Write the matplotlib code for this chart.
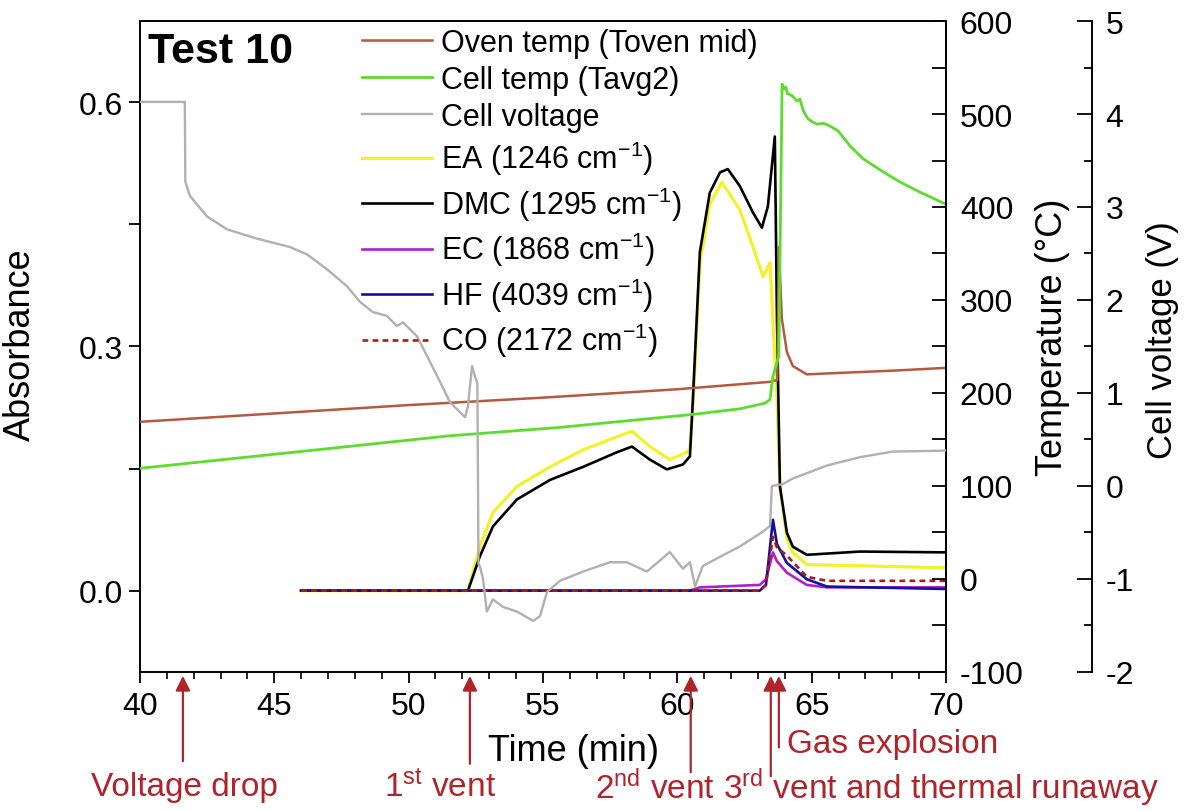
import matplotlib
matplotlib.use('Agg')
import matplotlib.pyplot as plt
from matplotlib.ticker import MultipleLocator, FuncFormatter

plt.rcParams['font.family'] = ['Liberation Sans', 'DejaVu Sans']
plt.rcParams['mathtext.fontset'] = 'custom'
plt.rcParams['mathtext.rm'] = 'Liberation Sans'
plt.rcParams['mathtext.it'] = 'Liberation Sans:italic'
plt.rcParams['mathtext.bf'] = 'Liberation Sans:bold'
plt.rcParams['axes.unicode_minus'] = False

# ---------------- data ----------------
oven_t = [40, 45, 50, 55, 60, 63.45, 63.72, 63.78, 63.89, 64.08, 64.30, 64.82, 65.57, 68.0, 70.0]
oven_T = [169, 178, 187, 195, 204, 212, 214, 357, 280, 244, 229, 220, 221, 224, 227]

cell_t = [40, 45.95, 51.54, 55.63, 60.58, 62.33, 63.26, 63.45, 63.56, 63.78, 63.9, 63.97, 64.04,
          64.1, 64.19, 64.3, 64.45, 64.56, 64.7, 64.86, 65.0, 65.2, 65.45, 65.68, 65.98, 66.42,
          66.91, 67.65, 68.28, 69.03, 70.0]
cell_T = [119, 137, 154, 163, 177, 183, 189, 193, 218, 240, 532, 527, 529, 522, 521, 519, 514,
          516, 503, 495, 492, 489, 490, 487, 482, 466, 452, 438, 427, 416, 403]

volt_t = [40, 41.67, 41.69, 41.86, 42.49, 43.24, 44.35, 45.58, 46.22, 46.96, 47.70, 48.19, 48.67,
          49.19, 49.56, 49.79, 50.31, 50.68, 51.17, 51.54, 52.10, 52.21, 52.36, 52.47, 52.56, 52.60,
          52.65, 52.77, 52.91, 53.14, 53.51, 54.03, 54.63, 54.89, 55.15, 55.63, 56.49, 57.49, 58.12,
          58.87, 59.72, 60.21, 60.47, 60.66, 60.95, 61.47, 62.33, 63.19, 63.45, 63.52, 63.93, 64.30,
          65.57, 66.80, 68.02, 69.96]
volt_V = [4.13, 4.13, 3.27, 3.12, 2.90, 2.76, 2.66, 2.57, 2.49, 2.33, 2.15, 1.98, 1.87,
          1.83, 1.72, 1.76, 1.61, 1.40, 1.12, 0.90, 0.74, 0.86, 1.29, 1.18, 1.10, -0.84,
          -0.86, -1.00, -1.35, -1.22, -1.30, -1.35, -1.45, -1.40, -1.14, -1.02, -0.92, -0.82, -0.82,
          -0.92, -0.71, -0.89, -0.82, -1.08, -0.86, -0.78, -0.65, -0.49, -0.43, 0.00, 0.02, 0.08,
          0.22, 0.31, 0.37, 0.38]

ea_t = [46, 52.21, 52.65, 53.14, 54.03, 55.26, 56.49, 57.75, 58.31, 58.98, 59.72, 60.36, 60.47,
        60.58, 60.84, 61.21, 61.66, 62.33, 62.81, 63.19, 63.45, 63.71, 63.82, 64.08, 64.30, 64.82, 70.0]
ea_A = [0, 0, 0.054, 0.096, 0.128, 0.152, 0.173, 0.189, 0.196, 0.177, 0.161, 0.170, 0.176,
        0.223, 0.401, 0.475, 0.502, 0.468, 0.423, 0.386, 0.403, 0.235, 0.128, 0.063, 0.047, 0.032, 0.028]

dmc_t = [46, 52.21, 52.65, 53.14, 54.03, 55.26, 56.49, 57.75, 58.31, 58.98, 59.61, 60.21, 60.47,
         60.58, 60.84, 61.21, 61.59, 61.88, 62.33, 62.81, 63.15, 63.37, 63.63, 63.71, 63.82, 64.08,
         64.30, 64.82, 66.80, 70.0]
dmc_A = [0, 0, 0.042, 0.079, 0.112, 0.136, 0.152, 0.170, 0.177, 0.161, 0.149, 0.155, 0.165,
         0.235, 0.416, 0.489, 0.514, 0.518, 0.497, 0.465, 0.446, 0.472, 0.558, 0.333, 0.128, 0.071,
         0.054, 0.044, 0.048, 0.047]

ec_t = [46, 60.47, 60.84, 63.07, 63.30, 63.56, 63.71, 64.08, 64.82, 65.57, 70.0]
ec_A = [0, 0, 0.004, 0.007, 0.014, 0.047, 0.036, 0.022, 0.007, 0.004, 0.004]

hf_t = [46, 63.07, 63.30, 63.56, 63.71, 64.08, 64.82, 65.57, 70.0]
hf_A = [0, 0, 0.007, 0.087, 0.057, 0.034, 0.014, 0.005, 0.002]

co_t = [46, 63.07, 63.30, 63.56, 63.71, 64.08, 64.82, 65.57, 70.0]
co_A = [0, 0, 0.007, 0.066, 0.053, 0.043, 0.017, 0.012, 0.012]

labels = ['Oven temp (Toven mid)', 'Cell temp (Tavg2)', 'Cell voltage',
          'EA (1246 cm$^{\\mathregular{-1}}$)', 'DMC (1295 cm$^{\\mathregular{-1}}$)',
          'EC (1868 cm$^{\\mathregular{-1}}$)', 'HF (4039 cm$^{\\mathregular{-1}}$)',
          'CO (2172 cm$^{\\mathregular{-1}}$)']

events_x = [41.6, 52.28, 60.5, 63.48, 63.78]

RED = '#B0232B'

# ---------------- figure ----------------
fig = plt.figure(figsize=(11.92, 8.12), dpi=100)
ax = fig.add_axes([0.1174, 0.1712, 0.6762, 0.8017])
ax2 = ax.twinx()
ax3 = ax.twinx()

lw = 1.9
h_ea, = ax.plot(ea_t, ea_A, color='#F2F22A', lw=lw + 0.4, label=labels[3])
h_dmc, = ax.plot(dmc_t, dmc_A, color='black', lw=lw, label=labels[4])
h_ec, = ax.plot(ec_t, ec_A, color='#B01ED0', lw=lw, label=labels[5])
h_hf, = ax.plot(hf_t, hf_A, color='#1010A0', lw=lw, label=labels[6])
h_co, = ax.plot(co_t, co_A, color='#B01818', lw=lw, ls=(0, (2.2, 1.6)), label=labels[7])

h_oven, = ax2.plot(oven_t, oven_T, color='#B4583F', lw=1.8, label=labels[0])
h_cell, = ax2.plot(cell_t, cell_T, color='#5CDC2C', lw=2.0, label=labels[1])

h_volt, = ax3.plot(volt_t, volt_V, color='#B0B0B0', lw=1.7, label=labels[2])

# axes limits & ticks
ax.set_xlim(40, 70)
ax.set_ylim(-0.1, 0.7)
ax2.set_ylim(-100, 600)
ax3.set_ylim(-2, 5)

TS = 23
LS = 26
ax.xaxis.set_major_locator(MultipleLocator(5))
ax.xaxis.set_minor_locator(MultipleLocator(1))
ax.yaxis.set_major_locator(MultipleLocator(0.3))
ax.yaxis.set_minor_locator(MultipleLocator(0.15))
ax.yaxis.set_major_formatter(FuncFormatter(lambda v, p: f'{v:.1f}'))
ax.tick_params(axis='x', which='major', direction='out', length=8, width=1.3, labelsize=TS, pad=6)
ax.tick_params(axis='x', which='minor', direction='out', length=5, width=1.2)
ax.tick_params(axis='y', which='both', direction='out', length=8, width=1.3, labelsize=TS, pad=4)
ax.tick_params(top=False, right=False)

ax2.yaxis.set_major_locator(MultipleLocator(100))
ax2.yaxis.set_minor_locator(MultipleLocator(50))
ax2.tick_params(axis='y', which='both', direction='in', length=10, width=1.3, labelsize=TS, pad=10)

ax3.spines['right'].set_position(('axes', 1.1806))
for s in ['left', 'top', 'bottom']:
    ax3.spines[s].set_visible(False)
    ax2.spines[s].set_visible(False)
ax3.yaxis.set_major_locator(MultipleLocator(1))
ax3.yaxis.set_minor_locator(MultipleLocator(0.5))
ax3.tick_params(axis='y', which='major', direction='in', length=11, width=1.3, labelsize=TS, pad=10)
ax3.tick_params(axis='y', which='minor', direction='in', length=6, width=1.3)

for a in (ax, ax2, ax3):
    for s in a.spines.values():
        s.set_linewidth(1.4)

# axis labels
ax.set_ylabel('Absorbance', fontsize=LS)
ax.yaxis.set_label_coords(-0.126, 0.504)
ax.set_xlabel('Time (min)', fontsize=LS, color='black')
ax.xaxis.set_label_coords(0.538, -0.121)
ax.xaxis.label.set_va('center')
ax2.set_ylabel('Temperature (\u00b0C)', fontsize=LS)
ax2.yaxis.set_label_coords(1.111, 0.515)
ax3.set_ylabel('Cell voltage (V)', fontsize=25)
ax3.yaxis.set_label_coords(1.248, 0.512)

# title text
ax.text(0.01, 0.985, 'Test 10', transform=ax.transAxes, fontsize=31, fontweight='bold', va='top', ha='left')

# legend
handles = [h_oven, h_cell, h_volt, h_ea, h_dmc, h_ec, h_hf, h_co]
leg = ax3.legend(handles, [h.get_label() for h in handles], loc='upper left',
                 bbox_to_anchor=(0.2754, 0.99), bbox_transform=ax.transAxes,
                 frameon=False, fontsize=22, handlelength=2.3, handletextpad=0.3,
                 labelspacing=0.235, borderpad=0, borderaxespad=0)

# event annotations
trans = ax.get_xaxis_transform()
tails = [-0.137, -0.141, -0.154, -0.160, -0.116]
for x, yt in zip(events_x, tails):
    ax.annotate('', xy=(x, -0.006), xycoords=trans, xytext=(x, yt), textcoords=trans,
                arrowprops=dict(arrowstyle='-|>', color=RED, lw=1.6, mutation_scale=22,
                                shrinkA=0, shrinkB=0),
                annotation_clip=False)

AS = 24
YB = -0.176
ax.text(41.64, YB, 'Voltage drop', transform=trans, color=RED, fontsize=AS, ha='center', va='center', clip_on=False)
ax.text(51.17, YB, '1$^{\\mathregular{st}}$ vent', transform=trans, color=RED, fontsize=AS, ha='center', va='center', clip_on=False)
ax.text(59.17, YB, '2$^{\\mathregular{nd}}$ vent', transform=trans, color=RED, fontsize=AS, ha='center', va='center', clip_on=False)
ax.text(61.70, YB, '3$^{\\mathregular{rd}}$ vent and thermal runaway', transform=trans, color=RED, fontsize=AS, ha='left', va='center', clip_on=False)
ax.text(64.08, -0.110, 'Gas explosion', transform=trans, color=RED, fontsize=AS, ha='left', va='center', clip_on=False)

fig.savefig('out.png', dpi=100)
